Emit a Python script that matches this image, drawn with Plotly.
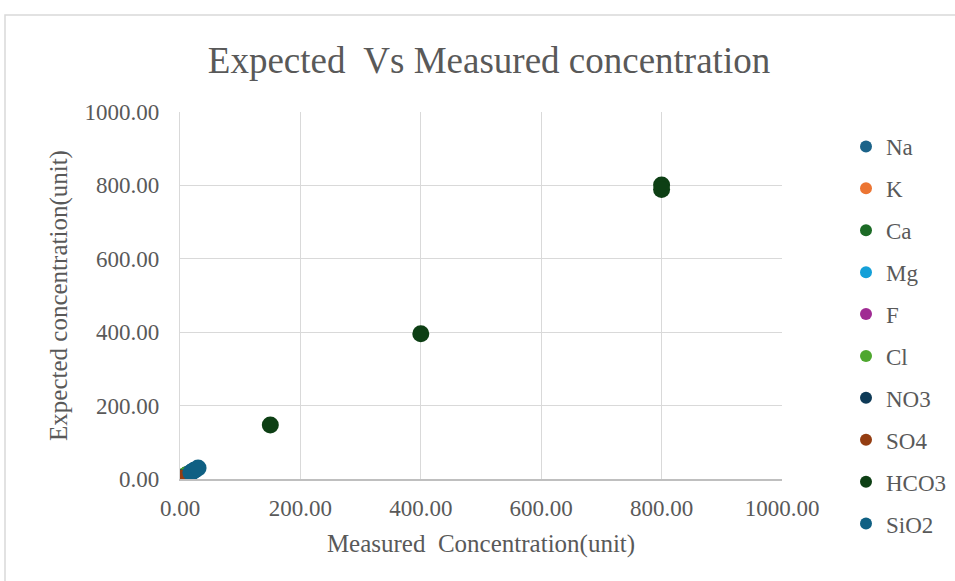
import plotly.graph_objects as go

# Measured vs expected concentrations per ion
series_names = ["Na", "K", "Ca", "Mg", "F", "Cl", "NO3", "SO4", "HCO3", "SiO2"]
series_colors = ["#1b6389", "#ec7533", "#1c6b26", "#14a0d8", "#a02b93",
                 "#4ea72e", "#0e3a57", "#943d11", "#0d3f14", "#0f6083"]

na_measured = [20.0, 24.0]
na_expected = [20.0, 24.0]
k_measured = [3.0, 4.0]
k_expected = [3.0, 4.0]
ca_measured = [10.0, 12.0]
ca_expected = [10.0, 12.0]
mg_measured = [5.0, 6.0]
mg_expected = [5.0, 6.0]
f_measured = [-1.0, 0.5]
f_expected = [1.0, 0.5]
cl_measured = [8.0, 9.0]
cl_expected = [8.0, 9.0]
no3_measured = [2.0, 3.0]
no3_expected = [2.0, 3.0]
so4_measured = [0.5, 2.0]
so4_expected = [0.5, 2.0]
hco3_measured = [150.0, 400.0, 800.0, 800.0]
hco3_expected = [147.0, 396.0, 801.0, 789.0]
sio2_measured = [18.0, 24.0, 30.0]
sio2_expected = [18.0, 24.0, 30.0]

measured = [na_measured, k_measured, ca_measured, mg_measured, f_measured,
            cl_measured, no3_measured, so4_measured, hco3_measured, sio2_measured]
expected = [na_expected, k_expected, ca_expected, mg_expected, f_expected,
            cl_expected, no3_expected, so4_expected, hco3_expected, sio2_expected]

axis_ticks = [0, 200, 400, 600, 800, 1000]
axis_tick_labels = ["0.00", "200.00", "400.00", "600.00", "800.00", "1000.00"]

font_family = "Liberation Serif, Times New Roman, serif"
text_color = "#595959"
NBSP = "\u00a0"

fig = go.Figure()
for name, color, xs, ys in zip(series_names, series_colors, measured, expected):
    fig.add_trace(go.Scatter(
        x=xs, y=ys, name=name, mode="markers", legendgroup=name,
        marker=dict(size=17, color=color, line=dict(width=0)),
    ))

# outer chart-area frame
W, H = 955, 581
L, R, T, B = 180, 173, 112, 102
pw, ph = W - L - R, H - T - B
fig.add_shape(type="rect", xref="paper", yref="paper",
              x0=(5 - L) / pw, x1=(W + 20 - L) / pw,
              y0=(H - B - (H + 20)) / ph, y1=(H - B - 15) / ph,
              line=dict(color="#d9d9d9", width=1.5), fillcolor="rgba(0,0,0,0)",
              layer="below")

fig.update_layout(
    width=W, height=H,
    margin=dict(l=L, r=R, t=T, b=B, autoexpand=False),
    paper_bgcolor="white", plot_bgcolor="white",
    font=dict(family=font_family, color=text_color),
    title=dict(text="Expected" + NBSP + " Vs Measured concentration",
               x=(489 - L) / pw, xanchor="center", xref="paper",
               y=(H - 60) / H, yanchor="middle",
               font=dict(size=37, color=text_color, family=font_family)),
    legend=dict(xref="container", yref="container",
                x=846 / W, xanchor="left", y=1 - 125 / H, yanchor="top",
                font=dict(size=23, color=text_color, family=font_family),
                tracegroupgap=9, itemsizing="constant", itemwidth=30,
                maxheight=H, bgcolor="rgba(0,0,0,0)"),
    showlegend=True,
)

fig.update_xaxes(
    range=[0, 1000], tickvals=axis_ticks, ticktext=axis_tick_labels,
    showgrid=True, gridcolor="#d9d9d9", gridwidth=1.3,
    showline=True, linecolor="#bfbfbf", linewidth=1.5, zeroline=False,
    ticks="", ticklabelstandoff=8,
    tickfont=dict(size=23, color=text_color, family=font_family),
    title=dict(text="Measured" + NBSP + " Concentration(unit)", standoff=14,
               font=dict(size=25, color=text_color, family=font_family)),
)
fig.update_yaxes(
    range=[0, 1000], tickvals=axis_ticks, ticktext=axis_tick_labels,
    showgrid=True, gridcolor="#d9d9d9", gridwidth=1.3,
    showline=True, linecolor="#d9d9d9", linewidth=1.3, zeroline=False,
    ticks="", ticklabelstandoff=15,
    tickfont=dict(size=23, color=text_color, family=font_family),
    title=dict(text="Expected concentration(unit)", standoff=9,
               font=dict(size=25, color=text_color, family=font_family)),
)

fig.write_html("out.html")
